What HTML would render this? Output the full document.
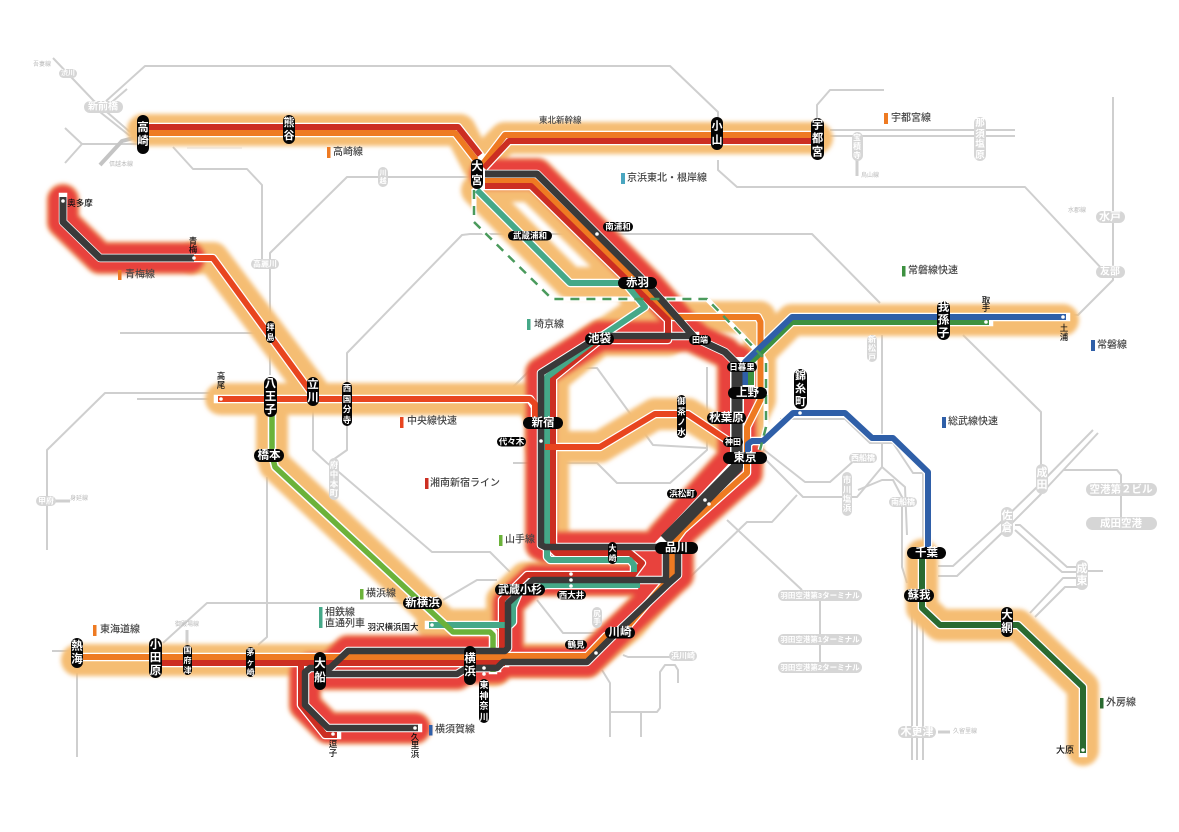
<!DOCTYPE html>
<html lang="ja"><head><meta charset="utf-8"><title>路線図</title>
<style>
html,body{margin:0;padding:0;background:#fff}
svg{display:block}
text{font-family:"Liberation Sans","Noto Sans CJK JP",sans-serif}
.g path{fill:none;stroke:#cfcfcf;stroke-width:2;stroke-linejoin:round}
path{fill:none;stroke-linejoin:round}
.ho path{stroke:#f5bd73;stroke-width:32;stroke-linecap:round}
.rh path{stroke-linecap:round}
.c path{stroke:#fff;stroke-width:8.5;stroke-linecap:square}
.st{font-weight:700;fill:#fff;text-anchor:middle;dominant-baseline:central}
.bl{fill:#111;font-weight:500;text-anchor:middle;dominant-baseline:central}
.lg{fill:#444;font-size:10px;font-weight:500;dominant-baseline:central}
.sm{fill:#bbb;font-size:6px;dominant-baseline:central}
.gp{fill:#d6d6d6}
.gt{fill:#fff;font-weight:700;text-anchor:middle;dominant-baseline:central}
</style></head><body>
<svg width="1179" height="832" viewBox="0 0 1179 832" xmlns="http://www.w3.org/2000/svg">
<defs>
<filter id="b" x="-5%" y="-5%" width="110%" height="110%"><feGaussianBlur stdDeviation="2"/></filter>
<g id="rh" class="rh">
<path d="M63 200V222L100 258H190"/>
<path d="M485 174H537L650 287L695 338L725 352L737 364"/>
<path d="M695 336H600L541 373V545L545 547H660"/>
<path d="M678 547V575L670 582L612 637L587 662H503L497 668H475"/>
<path d="M666 547V580H533L508 603V648L505 651H348L330 668H310L305 672V705L328 728H415"/>
<path d="M320 674H457L467 668H497"/>
<path d="M747 455V473L683 530L672 545V573"/>
</g>
<g id="rt" class="rh">
<path d="M737 364V460L665 540"/>
</g>
</defs>
<rect width="1179" height="832" fill="#fff"/>

<!-- gray network -->
<g class="g">
<path d="M53 58L93 100L130 132"/>
<path d="M105 102L145 66H670L718 112V125"/>
<path d="M105 108L127 89"/>
<path d="M95 108L130 136"/>
<path d="M65 128L82 144H137M65 163L82 144"/>
<path d="M100 165L122 141L137 137" style="stroke-width:4;stroke:#c4c4c4"/>
<path d="M60 74H68" style="stroke-width:3"/>
<path d="M173 147L193 169H247L262 185V262"/>
<path d="M187 148H242" style="stroke:#ececec;stroke-width:1.5"/>
<path d="M120 333H262"/>
<path d="M270 375V253L347 177H470"/>
<path d="M347 385V353L462 235L470 234H812L880 303"/>
<path d="M718 160V170L737 187H1025L1103 270"/>
<path d="M1113 97V280L1078 315H1060"/>
<path d="M817 118V105L830 90H884"/>
<path d="M830 130H1015M830 136H1015"/>
<path d="M857 160V176" style="stroke-width:3"/>
<path d="M963 335L1041 412V470"/>
<path d="M882 335V467"/>
<path d="M513 463H597L617 483H670L707 450V367"/>
<path d="M513 387L530 370"/>
<path d="M580 368H597L653 445L707 448"/>
<path d="M313 403V450L327 463L340 473L432 552H490L510 572"/>
<path d="M347 425V450L330 462"/>
<path d="M537 600L563 633H597"/>
<path d="M163 643L207 603H403"/>
<path d="M443 600L477 580H497"/>
<path d="M267 477V637L258 645"/>
<path d="M47 550V450L105 393H210M137 399H210"/>
<path d="M52 651H72M77 673V757"/>
<path d="M187 645V630" style="stroke-width:3"/>
<path d="M55 501H70" style="stroke-width:3"/>
<path d="M763 449L805 482H830L857 458"/>
<path d="M762 456L803 497H857L882 467L905 487L907 535"/>
<path d="M858 490L882 480H893L902 497V567L907 583"/>
<path d="M780 419H845L870 443H893L913 473H923V553"/>
<path d="M690 577L747 522H772L797 495"/>
<path d="M727 520L802 590"/>
<path d="M820 595V667"/>
<path d="M912 600V760M917 600V760M923 600V760"/>
<path d="M938 732H950" style="stroke-width:3"/>
<path d="M938 566H953L1000 523L1037 487L1093 430"/>
<path d="M938 576H957L1005 530L1040 495L1098 433"/>
<path d="M1015 525H1020L1067 567H1077M1015 530L1062 572H1080M1080 571H1103"/>
<path d="M1030 613L1063 578H1080"/>
<path d="M1035 617L1065 587H1080"/>
<path d="M1063 470H1117L1121 475V523"/>
<path d="M602 670L610 683V737M610 712H657L660 708V672L665 665H675L678 670V683M641 712V737"/>
<path d="M623 655L628 657H670"/>
</g>

<!-- orange halos -->
<g class="ho" filter="url(#b)">
<path d="M143 130H460L478 165"/>
<path d="M478 165L505 138H817"/>
<path d="M485 186H531L668 320V340H600L553 378V552H640L636 578H525L502 600V660"/>
<path d="M477 190L570 283H625L645 307L593 342"/>
<path d="M673 317H760V400L747 427V460"/>
<path d="M672 547V575L630 625L587 660H503"/>
<path d="M221 399H530L542 420V447H600L655 414H688L733 442"/>
<path d="M194 258H213L313 391"/>
<path d="M272 400V455L275 465L453 632H493V670"/>
<path d="M432 625H495"/>
<path d="M750 385V362L792 320H1063"/>
<path d="M922 555V608L940 625H1018L1083 687V750"/>
<path d="M77 660H505"/>
</g>

<!-- red halos -->
<g filter="url(#b)">
<use href="#rh" stroke="#f3a25f" stroke-width="33"/>
<use href="#rt" stroke="#f3a25f" stroke-width="41"/>
<use href="#rh" stroke="#e8433d" stroke-width="30"/>
<use href="#rt" stroke="#e8433d" stroke-width="38"/>
<rect x="630" y="550" width="42" height="30" fill="#e8433d"/>
</g>

<!-- white casings -->
<g class="c">
<path d="M143 127H458L480 155M143 133H455L476 160"/>
<path d="M482 165L505 135H817M484 168L509 141H817"/>
<path d="M485 174H537L650 287L695 338L725 352L737 364V380"/>
<path d="M485 181H534L673 317H758L760.5 322V400L747 427V450"/>
<path d="M485 186H531L668 320V340H600L553 378V550L556 553H630L642 563L633 575H527L502 600V660"/>
<path d="M477 190L570 283H625L645 307L593 342L547 377V557L550 560H630L634 565V570"/>
<path d="M634 585H547L520 590L513 607V622L510 625H429"/>
<path d="M695 336H600L541 373V545L545 547H660"/>
<path d="M737 465L665 542M737 364V455" style="stroke-width:14"/>
<path d="M747 450V473L683 530L672 545V575L622 633L606 636L587 656H503"/>
<path d="M678 547V575L670 582L612 637L587 662H503L497 668H475"/>
<path d="M666 547V580H533L508 603V648L505 651H348L330 668H310L305 672V705L328 728H418"/>
<path d="M320 674H457L467 668H497"/>
<path d="M301 663V705L325 735H337"/>
<path d="M77 657H500M162 663H505"/>
<path d="M63 197V222L100 258H213L313 395"/>
<path d="M218 399H530L535 407V420M542 447H600L655 414H688L727 440"/>
<path d="M272 410V455L275 467L453 632H493V670"/>
<path d="M745 385V362L792 317H1066M751 385V362L792 322H989"/>
<path d="M748 450V444L752 441H763L793 413H845L872 438H893L928 472V553"/>
<path d="M922 555V608L940 625H1018L1083 687V753"/>
</g>

<!-- dashed green casing -->
<path d="M474 190V222L552 299H707L763 357L766 362V427L760 450" stroke="#fff" stroke-width="5"/>

<!-- coloured lines -->
<g style="stroke-linecap:butt">
<path d="M143 133H455L476 160" stroke="#ee7a22" stroke-width="6"/>
<path d="M143 127H458L480 155" stroke="#cc2e22" stroke-width="6"/>
<path d="M482 165L505 135H817" stroke="#ee7a22" stroke-width="6"/>
<path d="M484 168L509 141H817" stroke="#cc2e22" stroke-width="6"/>
<path d="M485 181H534L673 317H758L760.5 322V400L747 427V450" stroke="#ee7a22" stroke-width="6"/>
<path d="M485 186H531L668 320V340H600L553 378V550L556 553H630L642 563L633 575H527L502 600V660" stroke="#cc2e22" stroke-width="6"/>
<path d="M477 190L570 283H625L645 307L593 342L547 377V557L550 560H630L634 565V572" stroke="#45a888" stroke-width="6"/>
<path d="M640 585H547L520 590L513 607V622L510 625H429" stroke="#45a888" stroke-width="6"/>
<path d="M272 410V455L275 467L453 632H490L493 635V672" stroke="#6bb23a" stroke-width="5.5"/>
<path d="M77 657H505" stroke="#ee7a22" stroke-width="6"/>
<path d="M162 663H505" stroke="#cc2e22" stroke-width="6"/>
<path d="M301 663V705L325 735H337" stroke="#cc2e22" stroke-width="6"/>
<path d="M747 450V473L683 530L672 545V575L622 633L606 636L587 656H503" stroke="#ee7a22" stroke-width="6"/>
<path d="M194 258H213L313 395" stroke="#e8451f" stroke-width="6"/>
<path d="M218 399H530L535 404V420M545 447H600L655 414H688L727 440" stroke="#e8451f" stroke-width="6"/>
<path d="M751 385V362L792 322H989" stroke="#3d9140" stroke-width="6"/>
<path d="M745 385V362L792 317H1066" stroke="#2f5fa8" stroke-width="6"/>
<path d="M748 452V444L752 441H763L793 413H845L872 438H893L928 472V553" stroke="#2f5fa8" stroke-width="6"/>
<path d="M922 555V608L940 625H1018L1083 687V753" stroke="#2a6a30" stroke-width="6"/>
<path d="M63 197V222L100 258H194" stroke="#3a3a3a" stroke-width="7"/>
<path d="M485 174H537L650 287L695 338L725 352L737 364V380" stroke="#3a3a3a" stroke-width="7"/>
<path d="M695 336H600L541 373V545L545 547H660" stroke="#3a3a3a" stroke-width="6.5"/>
<path d="M737 362V452" stroke="#3a3a3a" stroke-width="11"/>
<path d="M737 462V467L665 540" stroke="#3a3a3a" stroke-width="12"/>
<path d="M678 547V575L670 582L612 637L587 662H503L497 668H475" stroke="#3a3a3a" stroke-width="6.5"/>
<path d="M666 547V580H533L508 603V648L505 651H348L330 668H310L305 672V705L328 728H418" stroke="#3a3a3a" stroke-width="6.5"/>
<path d="M320 674H457L467 668H497" stroke="#3a3a3a" stroke-width="6.5"/>
<path d="M474 190V222L552 299H707L763 357L766 362V427L760 450" stroke="#4a9a5c" stroke-width="2.5" stroke-dasharray="9 7"/>
</g>

<!-- dots -->
<g fill="#fff">
<circle cx="63" cy="201" r="1.8"/><circle cx="194" cy="258" r="1.8"/><circle cx="221" cy="399" r="1.8"/>
<circle cx="597" cy="234" r="1.8"/><circle cx="541" cy="441" r="1.8"/>
<circle cx="705" cy="500" r="1.8"/><circle cx="709" cy="504" r="1.8"/>
<circle cx="571" cy="574" r="1.8"/><circle cx="571" cy="580" r="1.8"/><circle cx="571" cy="586" r="1.8"/>
<circle cx="596" cy="653" r="1.8"/><circle cx="484" cy="668" r="1.8"/><circle cx="484" cy="674" r="1.8"/>
<circle cx="432" cy="625" r="1.8"/><circle cx="333" cy="734" r="1.8"/><circle cx="415" cy="728" r="1.8"/>
<circle cx="1063" cy="317" r="1.8"/><circle cx="986" cy="322" r="1.8"/><circle cx="800" cy="413" r="1.8"/><circle cx="1083" cy="750" r="1.8"/>
</g>

<!-- gray pills -->
<g>
<rect class="gp" x="59" y="69" width="18" height="9" rx="4.5"/><text class="gt" x="68" y="73.5" font-size="7">渋川</text>
<rect class="gp" x="84" y="101" width="39" height="12" rx="6"/><text class="gt" x="103" y="107" font-size="10">新前橋</text>
<rect class="gp" x="378" y="167" width="10" height="20" rx="5"/><text class="gt" font-size="7"><tspan x="383" y="173">川</tspan><tspan x="383" y="181">越</tspan></text>
<rect class="gp" x="251" y="259" width="28" height="10" rx="5"/><text class="gt" x="265" y="264" font-size="8">高麗川</text>
<rect class="gp" x="852" y="132" width="11" height="29" rx="5.5"/><text class="gt" font-size="8"><tspan x="857" y="137">宝</tspan><tspan x="857" y="146">積</tspan><tspan x="857" y="155">寺</tspan></text>
<rect class="gp" x="974" y="117" width="12" height="44" rx="6"/><text class="gt" font-size="9.5"><tspan x="980" y="123">那</tspan><tspan x="980" y="134">須</tspan><tspan x="980" y="144">塩</tspan><tspan x="980" y="155">原</tspan></text>
<rect class="gp" x="1096" y="211" width="29" height="12" rx="6"/><text class="gt" x="1110" y="217" font-size="11">水戸</text>
<rect class="gp" x="1096" y="266" width="29" height="12" rx="6"/><text class="gt" x="1110" y="272" font-size="10">友部</text>
<rect class="gp" x="867" y="335" width="10" height="27" rx="5"/><text class="gt" font-size="8"><tspan x="872" y="339">新</tspan><tspan x="872" y="348">松</tspan><tspan x="872" y="357">戸</tspan></text>
<rect class="gp" x="36" y="496" width="20" height="10" rx="5"/><text class="gt" x="46" y="501" font-size="8">甲府</text>
<rect class="gp" x="329" y="458" width="10" height="42" rx="5"/><text class="gt" font-size="8.5"><tspan x="334" y="465">府</tspan><tspan x="334" y="474.5">中</tspan><tspan x="334" y="484">本</tspan><tspan x="334" y="493">町</tspan></text>
<rect class="gp" x="592" y="607" width="10" height="21" rx="5"/><text class="gt" font-size="7.5"><tspan x="597" y="613">尻</tspan><tspan x="597" y="621">手</tspan></text>
<rect class="gp" x="669" y="651" width="28" height="10" rx="5"/><text class="gt" x="683" y="656" font-size="8">浜川崎</text>
<rect class="gp" x="898" y="726" width="38" height="12" rx="6"/><text class="gt" x="917" y="732" font-size="11">木更津</text>
<rect class="gp" x="849" y="453" width="28" height="10" rx="5"/><text class="gt" x="863" y="458" font-size="8">西船橋</text>
<rect class="gp" x="842" y="472" width="10" height="44" rx="5"/><text class="gt" font-size="8.5"><tspan x="847" y="480">市</tspan><tspan x="847" y="489.5">川</tspan><tspan x="847" y="499">塩</tspan><tspan x="847" y="508">浜</tspan></text>
<rect class="gp" x="889" y="497" width="28" height="10" rx="5"/><text class="gt" x="903" y="502" font-size="8">南船橋</text>
<rect class="gp" x="1036" y="464" width="12" height="30" rx="6"/><text class="gt" font-size="11"><tspan x="1042" y="473">成</tspan><tspan x="1042" y="485">田</tspan></text>
<rect class="gp" x="1001" y="507" width="12" height="30" rx="6"/><text class="gt" font-size="11"><tspan x="1007" y="516">佐</tspan><tspan x="1007" y="528">倉</tspan></text>
<rect class="gp" x="1076" y="560" width="12" height="30" rx="6"/><text class="gt" font-size="11"><tspan x="1082" y="569">成</tspan><tspan x="1082" y="581">東</tspan></text>
<rect class="gp" x="1086" y="483" width="71" height="13" rx="6.5"/><text class="gt" x="1121" y="489.5" font-size="10.5">空港第２ビル</text>
<rect class="gp" x="1086" y="517" width="71" height="13" rx="6.5"/><text class="gt" x="1121" y="523.5" font-size="10.5">成田空港</text>
<rect class="gp" x="778" y="590" width="84" height="11" rx="5.5"/><text class="gt" x="820" y="595.5" font-size="7.5">羽田空港第3ターミナル</text>
<rect class="gp" x="778" y="634" width="84" height="11" rx="5.5"/><text class="gt" x="820" y="639.5" font-size="7.5">羽田空港第1ターミナル</text>
<rect class="gp" x="778" y="662" width="84" height="11" rx="5.5"/><text class="gt" x="820" y="667.5" font-size="7.5">羽田空港第2ターミナル</text>
</g>

<!-- small gray line labels -->
<text class="sm" x="33" y="65">吾妻線</text>
<text class="sm" x="109" y="165">信越本線</text>
<text class="sm" x="861" y="176">烏山線</text>
<text class="sm" x="1068" y="211">水郡線</text>
<text class="sm" x="953" y="732">久留里線</text>
<text class="sm" x="187" y="625" text-anchor="middle">御殿場線</text>
<text class="sm" x="70" y="499">身延線</text>

<!-- black pills -->
<g fill="#050505">
<rect x="137" y="115" width="12" height="39" rx="6"/>
<rect x="283" y="115" width="12" height="29" rx="6"/>
<rect x="711" y="117" width="12" height="33" rx="6"/>
<rect x="811" y="118" width="13" height="42" rx="6.5"/>
<rect x="471" y="159" width="12" height="30" rx="6"/>
<rect x="264" y="377" width="13" height="40" rx="6.5"/>
<rect x="307" y="377" width="12" height="29" rx="6"/>
<rect x="342" y="382" width="10" height="44" rx="5"/>
<rect x="71" y="638" width="12" height="30" rx="6"/>
<rect x="149" y="638" width="13" height="40" rx="6.5"/>
<rect x="183" y="645" width="9" height="30" rx="4.5"/>
<rect x="246" y="647" width="9" height="30" rx="4.5"/>
<rect x="314" y="652" width="12" height="38" rx="6"/>
<rect x="464" y="646" width="12" height="39" rx="6"/>
<rect x="479" y="679" width="10" height="44" rx="5"/>
<rect x="266" y="321" width="9" height="22" rx="4.5"/>
<rect x="677" y="395" width="9" height="43" rx="4.5"/>
<rect x="608" y="542" width="9" height="22" rx="4.5"/>
<rect x="937" y="301" width="13" height="39" rx="6.5"/>
<rect x="794" y="369" width="13" height="40" rx="6.5"/>
<rect x="1001" y="607" width="12" height="30" rx="6"/>
<rect x="618" y="277" width="39" height="12" rx="6"/>
<rect x="585" y="333" width="29" height="12" rx="6"/>
<rect x="689" y="335" width="22" height="10" rx="5"/>
<rect x="603" y="222" width="30" height="9.5" rx="4.7"/>
<rect x="508" y="231" width="44" height="9.5" rx="4.7"/>
<rect x="727" y="362" width="30" height="10" rx="5"/>
<rect x="728" y="387" width="39" height="12" rx="6"/>
<rect x="707" y="412" width="39" height="12" rx="6"/>
<rect x="723" y="437" width="20" height="10" rx="5"/>
<rect x="723" y="452" width="44" height="12" rx="6"/>
<rect x="523" y="417" width="40" height="12" rx="6"/>
<rect x="497" y="437" width="29" height="9.5" rx="4.7"/>
<rect x="667" y="489" width="30" height="9.5" rx="4.7"/>
<rect x="655" y="542" width="43" height="12" rx="6"/>
<rect x="557" y="590" width="29" height="9.5" rx="4.7"/>
<rect x="495" y="584" width="50" height="11.5" rx="5.7"/>
<rect x="605" y="627" width="30" height="11.5" rx="5.7"/>
<rect x="565" y="640" width="22" height="9.5" rx="4.7"/>
<rect x="403" y="597" width="39" height="12" rx="6"/>
<rect x="254" y="449" width="30" height="13" rx="6.5"/>
<rect x="907" y="547" width="39" height="12" rx="6"/>
<rect x="904" y="589" width="30" height="13" rx="6.5"/>
</g>

<!-- station text vertical -->
<text class="st" font-size="11.5"><tspan x="143" y="128">高</tspan><tspan x="143" y="141.5">崎</tspan></text>
<text class="st" font-size="11"><tspan x="289" y="123">熊</tspan><tspan x="289" y="136">谷</tspan></text>
<text class="st" font-size="11"><tspan x="717" y="126.5">小</tspan><tspan x="717" y="140.5">山</tspan></text>
<text class="st" font-size="11.5"><tspan x="817.5" y="125.5">宇</tspan><tspan x="817.5" y="139">都</tspan><tspan x="817.5" y="152.5">宮</tspan></text>
<text class="st" font-size="11.5"><tspan x="477" y="167">大</tspan><tspan x="477" y="181">宮</tspan></text>
<text class="st" font-size="11.5"><tspan x="270.5" y="384">八</tspan><tspan x="270.5" y="397">王</tspan><tspan x="270.5" y="410">子</tspan></text>
<text class="st" font-size="11.5"><tspan x="313" y="385">立</tspan><tspan x="313" y="398">川</tspan></text>
<text class="st" font-size="8.5"><tspan x="347" y="388">西</tspan><tspan x="347" y="399">国</tspan><tspan x="347" y="409">分</tspan><tspan x="347" y="420">寺</tspan></text>
<text class="st" font-size="11.5"><tspan x="77" y="646.5">熱</tspan><tspan x="77" y="659.5">海</tspan></text>
<text class="st" font-size="11.5"><tspan x="155.5" y="645">小</tspan><tspan x="155.5" y="658">田</tspan><tspan x="155.5" y="671">原</tspan></text>
<text class="st" font-size="8"><tspan x="187.5" y="650">国</tspan><tspan x="187.5" y="660">府</tspan><tspan x="187.5" y="670">津</tspan></text>
<text class="st" font-size="8"><tspan x="250.5" y="652">茅</tspan><tspan x="250.5" y="662">ヶ</tspan><tspan x="250.5" y="672">崎</tspan></text>
<text class="st" font-size="11.5"><tspan x="320" y="664">大</tspan><tspan x="320" y="678">船</tspan></text>
<text class="st" font-size="11.5"><tspan x="470" y="659">横</tspan><tspan x="470" y="672">浜</tspan></text>
<text class="st" font-size="9"><tspan x="484" y="685">東</tspan><tspan x="484" y="696">神</tspan><tspan x="484" y="706">奈</tspan><tspan x="484" y="717">川</tspan></text>
<text class="st" font-size="8"><tspan x="270.5" y="327">拝</tspan><tspan x="270.5" y="337">島</tspan></text>
<text class="st" font-size="8.5"><tspan x="681.5" y="401">御</tspan><tspan x="681.5" y="411.5">茶</tspan><tspan x="681.5" y="422">ノ</tspan><tspan x="681.5" y="432">水</tspan></text>
<text class="st" font-size="8"><tspan x="612.5" y="548">大</tspan><tspan x="612.5" y="558">崎</tspan></text>
<text class="st" font-size="11.5"><tspan x="943.5" y="307.5">我</tspan><tspan x="943.5" y="320.5">孫</tspan><tspan x="943.5" y="333.5">子</tspan></text>
<text class="st" font-size="11"><tspan x="800.5" y="376">錦</tspan><tspan x="800.5" y="389">糸</tspan><tspan x="800.5" y="402">町</tspan></text>
<text class="st" font-size="11.5"><tspan x="1007" y="615.5">大</tspan><tspan x="1007" y="628.5">網</tspan></text>

<!-- station text horizontal -->
<text class="st" x="637.5" y="283" font-size="11.5">赤羽</text>
<text class="st" x="599.5" y="339" font-size="11.5">池袋</text>
<text class="st" x="700" y="340" font-size="8">田端</text>
<text class="st" x="618" y="226.5" font-size="8.5">南浦和</text>
<text class="st" x="530" y="235.5" font-size="8.5">武蔵浦和</text>
<text class="st" x="742" y="367" font-size="8.5">日暮里</text>
<text class="st" x="747.5" y="393" font-size="11.5">上野</text>
<text class="st" x="726.5" y="418" font-size="11.5">秋葉原</text>
<text class="st" x="733" y="442" font-size="8">神田</text>
<text class="st" x="745" y="458" font-size="11.5">東京</text>
<text class="st" x="543" y="423" font-size="11.5">新宿</text>
<text class="st" x="511.5" y="441.5" font-size="8.5">代々木</text>
<text class="st" x="682" y="493.5" font-size="8.5">浜松町</text>
<text class="st" x="676.5" y="548" font-size="11.5">品川</text>
<text class="st" x="571.5" y="595" font-size="8.5">西大井</text>
<text class="st" x="520" y="590" font-size="11">武蔵小杉</text>
<text class="st" x="620" y="632.5" font-size="11.5">川崎</text>
<text class="st" x="576" y="644.5" font-size="8.5">鶴見</text>
<text class="st" x="422.5" y="603" font-size="11.5">新横浜</text>
<text class="st" x="269" y="455.5" font-size="11.5">橋本</text>
<text class="st" x="926.5" y="553" font-size="11.5">千葉</text>
<text class="st" x="919" y="595.5" font-size="11.5">蘇我</text>

<!-- black plain labels -->
<text class="bl" x="80" y="203" font-size="8.5">奥多摩</text>
<text class="bl" font-size="8.5"><tspan x="193" y="241">青</tspan><tspan x="193" y="249.5">梅</tspan></text>
<text class="bl" font-size="8.5"><tspan x="986" y="300">取</tspan><tspan x="986" y="308">手</tspan></text>
<text class="bl" font-size="8.5"><tspan x="1064" y="328">土</tspan><tspan x="1064" y="337">浦</tspan></text>
<text class="bl" font-size="8.5"><tspan x="221" y="376">高</tspan><tspan x="221" y="385">尾</tspan></text>
<text class="bl" font-size="8.5"><tspan x="333" y="744">逗</tspan><tspan x="333" y="753">子</tspan></text>
<text class="bl" font-size="8.5"><tspan x="415" y="737">久</tspan><tspan x="415" y="745">里</tspan><tspan x="415" y="754">浜</tspan></text>
<text class="bl" x="393" y="627" font-size="8.5">羽沢横浜国大</text>
<text class="bl" x="1065" y="750" font-size="9">大原</text>

<!-- legends -->
<g>
<rect x="327" y="147" width="3.5" height="11" fill="#ee7a22"/><text class="lg" x="333" y="152.5">高崎線</text>
<rect x="884" y="113" width="4" height="11" fill="#ee7a22"/><text class="lg" x="891" y="118.5">宇都宮線</text>
<text class="lg" x="539" y="120" style="font-size:8.5px">東北新幹線</text>
<rect x="621" y="173" width="4" height="11" fill="#4aa6c0"/><text class="lg" x="627" y="178.5">京浜東北・根岸線</text>
<rect x="118" y="270" width="3.5" height="10" fill="#ee7a22"/><text class="lg" x="125" y="275">青梅線</text>
<rect x="902" y="266" width="3.5" height="10.5" fill="#3d9140"/><text class="lg" x="908" y="271">常磐線快速</text>
<rect x="1091" y="340" width="4" height="11" fill="#2f5fa8"/><text class="lg" x="1097" y="345.5">常磐線</text>
<rect x="527" y="319" width="3.5" height="11" fill="#45a888"/><text class="lg" x="534" y="325">埼京線</text>
<rect x="942" y="417" width="4" height="11" fill="#2f5fa8"/><text class="lg" x="948" y="422">総武線快速</text>
<rect x="400" y="417" width="3.5" height="11" fill="#e8451f"/><text class="lg" x="407" y="421.5">中央線快速</text>
<rect x="425" y="478" width="3.5" height="11" fill="#cc2e22"/><text class="lg" x="430" y="483.5">湘南新宿ライン</text>
<rect x="499" y="535" width="3.5" height="11" fill="#6bb23a"/><text class="lg" x="505" y="540">山手線</text>
<rect x="360" y="589" width="3.5" height="10.5" fill="#6bb23a"/><text class="lg" x="366" y="594">横浜線</text>
<rect x="319" y="607" width="3.5" height="21" fill="#45a888"/><text class="lg" x="325" y="613">相鉄線</text><text class="lg" x="325" y="624">直通列車</text>
<rect x="93" y="625" width="3.5" height="11" fill="#ee7a22"/><text class="lg" x="100" y="630">東海道線</text>
<rect x="429" y="725" width="3.5" height="10.5" fill="#2f5fa8"/><text class="lg" x="435" y="730">横須賀線</text>
<rect x="1100" y="698" width="3.5" height="10.5" fill="#2a6a30"/><text class="lg" x="1106" y="703">外房線</text>
</g>
</svg>
</body></html>
